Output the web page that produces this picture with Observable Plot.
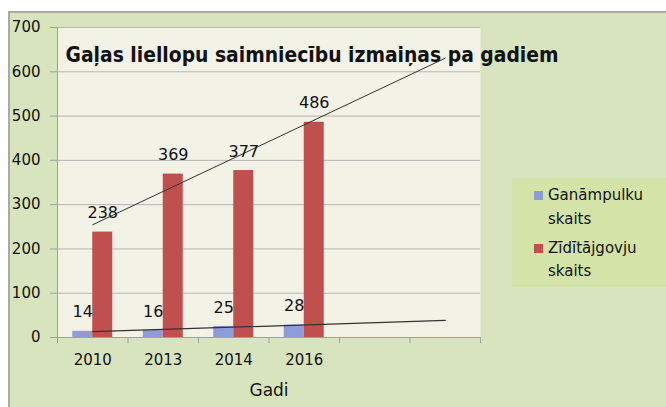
<!DOCTYPE html>
<html><head><meta charset="utf-8">
<script src="https://cdn.jsdelivr.net/npm/d3@7"></script>
<script src="https://cdn.jsdelivr.net/npm/@observablehq/plot@0.6"></script>
<style>
body{margin:0;background:#fff;}
#wrap{position:relative;width:666px;height:407px;overflow:hidden;font-family:"DejaVu Sans",sans-serif;}
#outer{position:absolute;left:8px;top:11px;width:700px;height:500px;background:#d7e4bd;border-left:2px solid #a9a9a9;border-top:2px solid #a9a9a9;box-sizing:border-box;}
#chart{position:absolute;left:0;top:0;}
#legend{position:absolute;left:512px;top:178px;width:160px;height:109px;background:#d4e4a8;}
.item{position:absolute;left:36px;font-size:15px;line-height:23.5px;color:#111;white-space:nowrap;}
.sw{position:absolute;left:-14px;top:7px;width:9px;height:9px;}
</style></head>
<body>
<div id="wrap"><div id="outer"></div><div id="chart"></div><div id="legend"></div></div>
<script>
const categories = ["2010", "2013", "2014", "2016", "", ""];
const seriesNames = ["Ganāmpulku skaits", "Zīdītājgovju skaits"];
const ganampulki = [14, 16, 25, 28];
const ziditajgovis = [238, 369, 377, 486];
const yTicks = [0, 100, 200, 300, 400, 500, 600, 700];
const title = "Gaļas liellopu saimniecību izmaiņas pa gadiem";
const xTitle = "Gadi";
const colors = ["#8c9dd8", "#c0504d"];

const W = 666, H = 407, mL = 57, mR = 186, mT = 27, mB = 70;
const step = (W - mL - mR) / categories.length;
const barW = 20;
const pInner = 1 - barW / step;

const series = [ganampulki, ziditajgovis];
const rows = series.map((vals, s) => vals.map((v, i) => ({i, v, s})));

// linear trendlines (least squares) across the category axis
function trend(vals) {
  const mx = d3.mean(vals, (_, i) => i), my = d3.mean(vals);
  const b = d3.sum(vals, (v, i) => (i - mx) * (v - my)) / d3.sum(vals, (_, i) => (i - mx) ** 2);
  const a = my - b * mx;
  const last = categories.length - 1;
  return [{i: 0, v: a}, {i: last, v: a + b * last}];
}

const idx = categories.map((_, i) => i);

const plot = Plot.plot({
  width: W, height: H,
  marginLeft: mL, marginRight: mR, marginTop: mT, marginBottom: mB,
  style: {fontFamily: "DejaVu Sans, sans-serif", background: "transparent", color: "#111"},
  x: {type: "band", domain: idx, paddingInner: pInner, paddingOuter: pInner / 2, align: 0.5, round: false},
  y: {domain: [0, 700]},
  marks: [
    Plot.frame({fill: "#f3f2e7", stroke: "none"}),
    Plot.gridY(yTicks, {stroke: "#b4b4b4", strokeOpacity: 1}),
    Plot.ruleX([0], {dx: -step / 2, stroke: "#a0a0a0"}),
    Plot.ruleX(idx, {y1: 0, y2: 0, dx: -step / 2, insetBottom: -6, stroke: "#a0a0a0"}),
    Plot.ruleX([idx.length - 1], {y1: 0, y2: 0, dx: step / 2, insetBottom: -6, stroke: "#a0a0a0"}),
    Plot.barY(rows[0], {x: "i", y: "v", fill: colors[0], dx: -barW / 2}),
    Plot.barY(rows[1], {x: "i", y: "v", fill: colors[1], dx: barW / 2}),
    Plot.ruleY([0], {stroke: "#a0a0a0"}),
    Plot.line(trend(ganampulki), {x: "i", y: "v", stroke: "#333", strokeWidth: 1.3}),
    Plot.line(trend(ziditajgovis), {x: "i", y: "v", stroke: "#333", strokeWidth: 1}),
    Plot.text(rows[0], {x: "i", y: "v", text: "v", dx: -barW / 2, dy: -19, fontSize: 16, fill: "#111"}),
    Plot.text(rows[1], {x: "i", y: "v", text: "v", dx: barW / 2, dy: -19, fontSize: 16, fill: "#111"}),
    Plot.axisY({ticks: yTicks, tickSize: 7, tickPadding: 10, fontSize: 15, label: null, stroke: "#a0a0a0"}),
    Plot.axisX({tickSize: 0, tickPadding: 17, fontSize: 15, label: null, tickFormat: i => categories[i]}),
    Plot.text([xTitle], {frameAnchor: "bottom", dy: 58, fontSize: 17, fill: "#111"}),
    Plot.text([title], {frameAnchor: "top-left", dx: 8, dy: 20, textAnchor: "start", fontSize: 21, fontWeight: "bold", fill: "#111"})
  ]
});
plot.querySelectorAll("text").forEach(t => {
  if (t.textContent === title) { t.setAttribute("textLength", 493); t.setAttribute("lengthAdjust", "spacingAndGlyphs"); }
});
document.getElementById("chart").appendChild(plot);

const legend = document.getElementById("legend");
seriesNames.forEach((name, s) => {
  const d = document.createElement("div");
  d.className = "item";
  d.style.top = (6 + s * 52.5) + "px";
  const parts = name.split(" ");
  d.innerHTML = `<span class="sw" style="background:${colors[s]}"></span>${parts[0]}<br>${parts.slice(1).join(" ")}`;
  legend.appendChild(d);
});
</script>
</body></html>
